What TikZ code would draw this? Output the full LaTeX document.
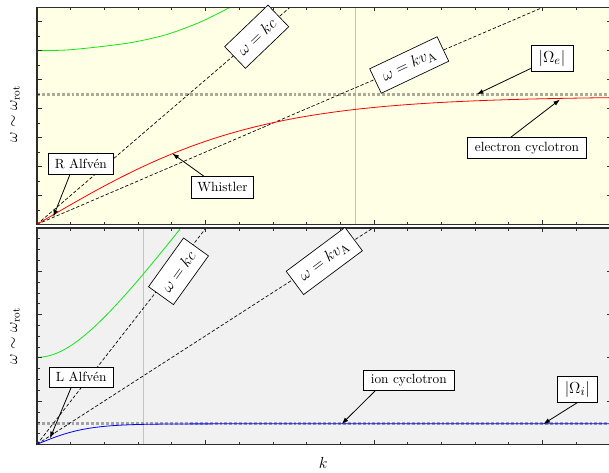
\documentclass[tikz,border=0pt]{standalone}
\usepackage{fontspec}
\usetikzlibrary{arrows.meta}
\definecolor{bgtop}{RGB}{255,255,230}
\definecolor{bgbot}{RGB}{241,241,241}
\definecolor{grline}{RGB}{196,196,190}
\definecolor{cyctop}{RGB}{170,170,150}
\definecolor{cycbot}{RGB}{160,160,165}
\definecolor{gcurve}{RGB}{20,230,20}
\definecolor{framec}{RGB}{45,45,45}
\begin{document}
\begin{tikzpicture}[x=0.75pt,y=-0.75pt,
  frm/.style={draw=framec, line width=0.8pt},
  tck/.style={draw=framec, line width=0.5pt},
  refline/.style={black, line width=0.5pt, dash pattern=on 2.5pt off 1.5pt},
  cyc/.style={line width=2pt, dash pattern=on 2.2pt off 1.5pt},
  vline/.style={draw=grline, line width=0.7pt},
  lbl/.style={draw=black, fill=white, line width=0.5pt, font=\fontsize{10}{12}\selectfont, inner xsep=4pt, inner ysep=2pt, minimum height=15.5pt},
  mlbl/.style={lbl, inner xsep=3.5pt, font=\fontsize{12.5}{15}\selectfont},
  arr/.style={-{Latex[length=5pt,width=3.5pt]}, line width=0.6pt},
]
\useasboundingbox (0,0) rectangle (609,472);
% panels
\fill[bgtop] (37,7.3) rectangle (611.5,224.3);
\fill[bgbot] (37,228) rectangle (611.5,444.3);

% ---------- top panel ----------
\begin{scope}
\clip (37,7.3) rectangle (611.5,224.3);
\draw[vline] (355,7.3) -- (355,224.3);
\draw[cyc, draw=cyctop] (37,94.7) -- (611.5,94.7);
\draw[refline] (37,224.3) -- (290,7.3);
\draw[refline] (37,224.3) -- (543,7.3);
\draw[red, line width=0.6pt] plot[domain=0:575, samples=90] ({37+\x},{224.3-128*tanh(min(\x/218,6))});
\draw[gcurve, line width=0.6pt] plot[smooth] coordinates {(36.7,50.7) (66.7,50) (100,46.7) (133.3,42.2) (166.7,34.5) (200,22.2) (230,7.3) (236,3)};
\end{scope}
\draw[frm] (37,7.3) rectangle (611.5,224.3);
\foreach \j in {1,...,14} {
  \pgfmathsetmacro\L{ifthenelse(mod(\j,2)==0,5,3)}
  \draw[tck] (37,{224.3-14.47*\j}) -- ++(\L,0);
  \draw[tck] (611.5,{224.3-14.47*\j}) -- ++(-\L,0);
}
\foreach \i in {1,...,16} {
  \pgfmathsetmacro\L{ifthenelse(mod(\i,5)==0,4,2.5)}
  \draw[tck] ({37+33.7*\i},7.3) -- ++(0,\L);
  \draw[tck] ({37+33.7*\i},224.3) -- ++(0,-\L);
}

% ---------- bottom panel ----------
\begin{scope}
\clip (37,228) rectangle (611.5,444.3);
\draw[vline] (143.3,228) -- (143.3,444.3);
\draw[cyc, draw=cycbot] (37,423.3) -- (611.5,423.3);
\draw[refline] (37,444.3) -- (206,228);
\draw[refline] (37,444.3) -- (373,228);
\draw[blue, line width=0.6pt] plot[domain=0:575, samples=90] ({37+\x},{444.3-20.5*tanh(min(\x/49.5,6))});
\draw[gcurve, line width=0.6pt] plot[domain=0:160, samples=60] ({37+\x},{444.3-10*sqrt(75.69+(0.1377*\x)^2)});
\end{scope}
\draw[frm] (37,228) rectangle (611.5,444.3);
\foreach \j in {1,...,19} {
  \pgfmathsetmacro\L{ifthenelse(mod(\j,4)==0,5,3)}
  \draw[tck] (37,{444.3-10.815*\j}) -- ++(\L,0);
  \draw[tck] (611.5,{444.3-10.815*\j}) -- ++(-\L,0);
}
\foreach \i in {1,...,16} {
  \pgfmathsetmacro\L{ifthenelse(mod(\i,5)==0,4,2.5)}
  \draw[tck] ({37+33.7*\i},228) -- ++(0,\L);
  \draw[tck] ({37+33.7*\i},444.3) -- ++(0,-\L);
}

% ---------- axis labels ----------
\node[rotate=90, font=\fontsize{12}{14}\selectfont] (ylab1) at (15,114) {$\omega\sim\omega_{\mathrm{rot}}$};
\node[rotate=90, font=\fontsize{12}{14}\selectfont] (ylab2) at (15,336) {$\omega\sim\omega_{\mathrm{rot}}$};
\node[font=\fontsize{12}{14}\selectfont] (xlab) at (323.3,463.3) {$k$};

% ---------- labels top ----------
\node[mlbl, rotate=43.8, minimum width=45pt, minimum height=22.5pt] (kc1) at (256.7,36.7) {$\omega = kc$};
\node[mlbl, rotate=25.4, minimum width=56pt, minimum height=20.3pt] (kva1) at (409.2,65) {$\omega = kv_{\mathrm{A}}$};
\node[mlbl, minimum width=31.3pt, minimum height=18.8pt] (Oe) at (552,58.3) {$|\Omega_e|$};
\node[lbl, minimum width=89.5pt] (ecyc) at (527,148) {electron cyclotron};
\node[lbl, minimum width=46.2pt, minimum height=16.3pt] (whis) at (222.5,187.5) {Whistler};
\node[lbl, minimum width=48.8pt] (ralf) at (80.8,163.7) {R Alfvén};

% ---------- labels bottom ----------
\node[mlbl, rotate=54.3, minimum width=45pt, minimum height=23pt] (kc2) at (178.5,271.3) {$\omega = kc$};
\node[mlbl, rotate=36.7, minimum width=55pt, minimum height=21.8pt] (kva2) at (324.3,261) {$\omega = kv_{\mathrm{A}}$};
\node[lbl, minimum width=48.2pt] (lalf) at (81.2,377.2) {L Alfvén};
\node[lbl, minimum width=68.3pt] (icyc) at (408.8,380.3) {ion cyclotron};
\node[mlbl, minimum width=30.5pt, minimum height=19.2pt] (Oi) at (577.3,389.5) {$|\Omega_i|$};

% ---------- arrow targets ----------
\coordinate (tOe) at (476.7,94.3);
\coordinate (tec) at (560,99.5);
\coordinate (twh) at (172.3,153.5);
\coordinate (tra) at (53.3,216.7);
\coordinate (tla) at (50,438.3);
\coordinate (tic) at (341.7,424);
\coordinate (tOi) at (543.3,424);

\draw[arr] (Oe) -- (tOe);
\draw[arr] ([shift={(-16.3,0)}]ecyc.north) -- (tec);
\draw[arr] ([shift={(-18.5,0)}]whis.north) -- (twh);
\draw[arr] ([shift={(-10.8,0)}]ralf.south) -- (tra);
\draw[arr] ([shift={(-10.2,0)}]lalf.south) -- (tla);
\draw[arr] ([shift={(-33.8,0)}]icyc.south) -- (tic);
\draw[arr] (Oi.south) -- (tOi);
\end{tikzpicture}
\end{document}
